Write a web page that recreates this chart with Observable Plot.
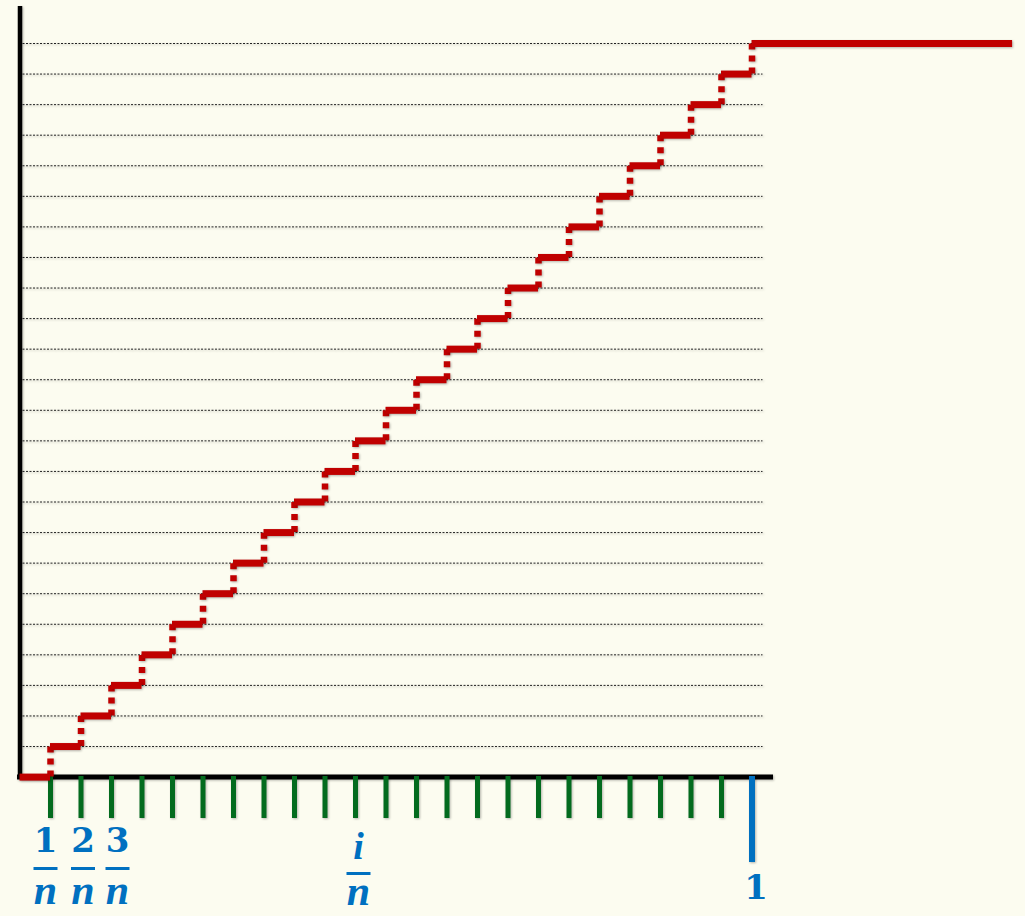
<!DOCTYPE html>
<html>
<head>
<meta charset="utf-8">
<script src="https://cdn.jsdelivr.net/npm/d3@7"></script>
<script src="https://cdn.jsdelivr.net/npm/@observablehq/plot@0.6"></script>
<style>
  html, body { margin: 0; padding: 0; background: #FCFCF0; }
  #chart svg g[aria-label="rule"],
  #chart svg g[aria-label="x-axis tick"] {
    filter: drop-shadow(1.5px 1.5px 1px rgba(0,0,0,0.28));
  }
</style>
</head>
<body>
<div id="chart"></div>
<script>
// ---- data ----
const n = 24;                                   // number of steps
const stepLevels = [0,1,2,3,4,5,6,7,8,9,10,11,12,13,14,15,16,17,18,19,20,21,22,23,24]; // level k/n
const gridLevels = [1,2,3,4,5,6,7,8,9,10,11,12,13,14,15,16,17,18,19,20,21,22,23,24];
const greenTicks = [1,2,3,4,5,6,7,8,9,10,11,12,13,14,15,16,17,18,19,20,21,22,23];
const blueTicks = [24];
const xEnd = 1.356;                             // last flat segment extends to here
const fractionTicks = [1, 2, 3, 11];
const fractionNumerators = ["1", "2", "3", "i"];
const fractionDenominator = "n";
const oneLabel = [{k: 24, text: "1"}];

// ---- derived tables ----
const horizontal = stepLevels.map(k => ({y: k / n, x1: k / n, x2: k === n ? xEnd : (k + 1) / n}));
const vertical = stepLevels.filter(k => k > 0).map(k => ({x: k / n, y1: (k - 1) / n, y2: k / n}));
const fractions = fractionTicks.map((k, i) => ({k, num: fractionNumerators[i]}));

const red = "#C00000", green = "#036B1E", blue = "#0070C0";
const barSymbol = {draw(ctx) { ctx.moveTo(-12, 0); ctx.lineTo(12, 0); }};

// small horizontal nudges (styling only)
const nudges = [-5, 2, 6, 3];

function fractionMarks(d, dx) {
  const isLetter = d.num === "i";
  const base = {x: e => e.k / n, frameAnchor: "bottom", fill: blue, lineAnchor: "middle", dx};
  return [
    Plot.text([d], {...base, text: "num", dy: isLetter ? 70 : 65,
      fontSize: isLetter ? 38 : 34, fontWeight: "bold", fontStyle: isLetter ? "italic" : "normal",
      fontFamily: isLetter ? "Liberation Serif" : "DejaVu Serif"}),
    Plot.dot([d], {x: e => e.k / n, frameAnchor: "bottom", dx, dy: isLetter ? 97 : 92,
      symbol: barSymbol, stroke: blue, strokeWidth: 3, fill: "none"}),
    Plot.text([d], {...base, text: () => fractionDenominator, dy: isLetter ? 115 : 114,
      fontSize: 42, fontWeight: "bold", fontStyle: "italic", fontFamily: "Liberation Serif"})
  ];
}

const chart = Plot.plot({
  width: 1025,
  height: 916,
  marginTop: 6,
  marginLeft: 17,
  marginRight: 252,
  marginBottom: 140,
  style: {background: "#FCFCF0", overflow: "visible"},
  x: {domain: [0, 1], range: [19.5, 751.5]},
  y: {domain: [0, 1], range: [776.6, 43], axis: null},
  marks: [
    // dotted grid lines
    Plot.ruleY(gridLevels, {y: k => k / n, x1: 0, x2: 1, insetLeft: 3, insetRight: -11,
      stroke: "#222", strokeWidth: 1, strokeDasharray: "2,1.5", ariaLabel: "grid"}),
    // axes lines
    Plot.ruleX([0], {stroke: "black", strokeWidth: 4.5}),
    Plot.ruleY([0], {stroke: "black", strokeWidth: 5}),
    // ticks
    Plot.axisX({ticks: greenTicks.map(k => k / n), tickSize: 42, stroke: green, strokeWidth: 5,
      tickFormat: () => "", label: null}),
    Plot.axisX({ticks: blueTicks.map(k => k / n), tickSize: 86, stroke: blue, strokeWidth: 6,
      tickFormat: () => "", label: null}),
    // staircase
    Plot.ruleX(vertical, {x: "x", y1: "y1", y2: "y2", stroke: red, strokeWidth: 6.5, strokeDasharray: "6,6"}),
    Plot.ruleY(horizontal, {y: "y", x1: "x1", x2: "x2", stroke: red, strokeWidth: 7}),
    // fraction labels
    ...fractions.flatMap((d, i) => fractionMarks(d, nudges[i])),
    // "1" under the blue tick
    Plot.text(oneLabel, {x: d => d.k / n, frameAnchor: "bottom", text: "text", dy: 112, dx: 4,
      fontSize: 34, fontWeight: "bold", fontFamily: "DejaVu Serif", fill: blue, lineAnchor: "middle"})
  ]
});
document.getElementById("chart").appendChild(chart);
</script>
</body>
</html>
